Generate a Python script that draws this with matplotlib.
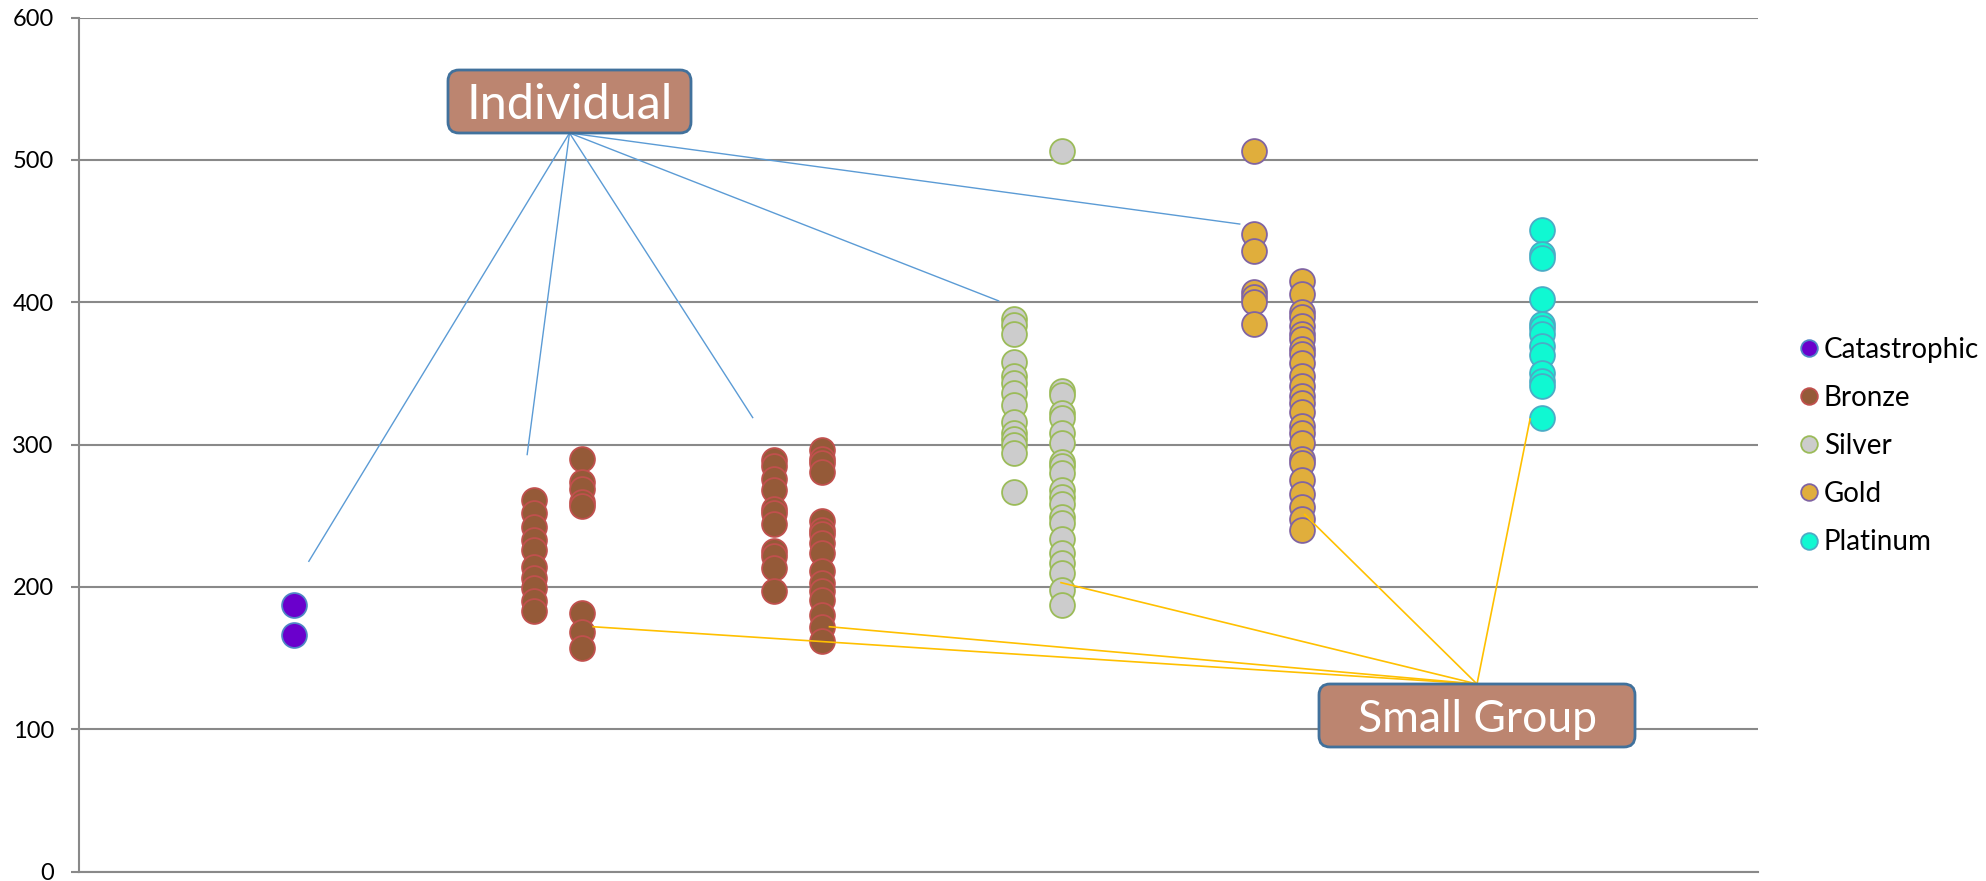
import matplotlib
matplotlib.use("Agg")
import matplotlib.pyplot as plt
from matplotlib.lines import Line2D
from matplotlib.patches import FancyBboxPatch

plt.rcParams['font.family'] = ['Lato', 'DejaVu Sans']

# ---- data -------------------------------------------------------------
series_names = ["Catastrophic", "Bronze", "Silver", "Gold", "Platinum"]

# level positions on the x axis; individual results sit just left of a level,
# small-group results just right of it
catastrophic_level = 1
bronze_levels = [2, 3]
silver_level = 4
gold_level = 5
platinum_level = 6
offset = 0.1

catastrophic_individual = [187, 166]

bronze1_individual = [261, 252, 242, 233, 226, 214, 206, 199, 190, 183]
bronze1_group = [290, 274, 269, 260, 257, 182, 168, 157]

bronze2_individual = [289, 285, 276, 268, 255, 252, 244, 225, 222, 213, 197]
bronze2_group = [296, 290, 287, 281, 246, 240, 237, 231, 224, 211, 203, 197,
                 191, 180, 172, 162]

silver_individual = [388, 384, 378, 358, 348, 343, 336, 328, 316, 308, 304,
                     300, 294, 267]
silver_group = [506, 338, 335, 322, 319, 308, 301, 288, 285, 280, 268, 263,
                258, 249, 245, 234, 224, 217, 210, 198, 187]

gold_individual = [506, 448, 436, 407, 404, 400, 385]
gold_group = [415, 406, 393, 390, 383, 378, 374, 367, 364, 357, 348, 341,
              334, 329, 323, 313, 308, 301, 290, 287, 275, 265, 256, 248, 240]

platinum_group = [451, 434, 431, 402, 385, 382, 378, 369, 363, 350, 345,
                  341, 319]

y_ticks = [0, 100, 200, 300, 400, 500, 600]

# callout leader end points (x, y in data units)
individual_targets = [(0.96, 218), (1.87, 293), (2.81, 319), (3.835, 401),
                      (4.84, 455)]
group_targets = [(2.145, 172), (3.13, 172), (4.095, 203), (5.11, 251),
                 (6.05, 318)]

# ---- styling ----------------------------------------------------------
fills = {"Catastrophic": "#6A00CC", "Bronze": "#955A38", "Silver": "#CCCCCC",
         "Gold": "#E0AE3C", "Platinum": "#10F8D2"}
edges = {"Catastrophic": "#4F86C6", "Bronze": "#C0504D", "Silver": "#9BBB59",
         "Gold": "#8064A2", "Platinum": "#4BACC6"}
grid_color = "#898989"
marker_area = 320

fig = plt.figure(figsize=(19.86, 8.81), dpi=100)
ax = fig.add_axes([78.5 / 1986, 9.5 / 881, (1758 - 78.5) / 1986,
                   (871.5 - 17.7) / 881])

ax.set_xlim(0, 7)
ax.set_ylim(0, 600)
ax.set_yticks(y_ticks)
ax.set_xticks([])
ax.tick_params(axis='y', length=5.8, width=1.5, color=grid_color, pad=12.0,
               labelsize=17, labelcolor="#000000")
ax.yaxis.grid(True, color=grid_color, linewidth=1.5)
ax.set_axisbelow(True)
for side in ("top", "right"):
    ax.spines[side].set_visible(False)
for side in ("left", "bottom"):
    ax.spines[side].set_color(grid_color)
    ax.spines[side].set_linewidth(1.5)


def draw(name, xpos, values):
    ax.scatter([xpos] * len(values), values, s=marker_area, c=fills[name],
               edgecolors=edges[name], linewidths=1.3, zorder=3)


draw("Catastrophic", catastrophic_level - offset, catastrophic_individual)
draw("Bronze", bronze_levels[0] - offset, bronze1_individual)
draw("Bronze", bronze_levels[0] + offset, bronze1_group)
draw("Bronze", bronze_levels[1] - offset, bronze2_individual)
draw("Bronze", bronze_levels[1] + offset, bronze2_group)
draw("Silver", silver_level - offset, silver_individual)
draw("Silver", silver_level + offset, silver_group)
draw("Gold", gold_level - offset, gold_individual)
draw("Gold", gold_level + offset, gold_group)
draw("Platinum", platinum_level + offset, platinum_group)

# ---- legend -----------------------------------------------------------
handles = [Line2D([], [], linestyle="none", marker="o", markersize=12,
                  markerfacecolor=fills[n], markeredgecolor=edges[n],
                  markeredgewidth=1.3, label=n) for n in series_names]
ax.legend(handles=handles, loc="center left",
          bbox_to_anchor=(1796 / 1986, (881 - 446) / 881),
          bbox_transform=fig.transFigure, frameon=False, fontsize=20,
          handlelength=0.9, handletextpad=0.1, labelspacing=0.8,
          borderpad=0, borderaxespad=0)

# ---- callouts ---------------------------------------------------------
box_fill = "#BC8570"
box_edge = "#41719C"


def callout(x0, y0, w, h, text, size):
    # box geometry in inches from the figure's lower-left corner
    box = FancyBboxPatch((x0, y0), w, h,
                         boxstyle="round,pad=0,rounding_size=0.11",
                         transform=fig.dpi_scale_trans, facecolor=box_fill,
                         edgecolor=box_edge, linewidth=2.0, zorder=6)
    fig.add_artist(box)
    fig.text(x0 + w / 2, y0 + h / 2, text, transform=fig.dpi_scale_trans,
             ha="center", va="center_baseline", color="white", fontsize=size,
             zorder=7)
    return box


fig.canvas.draw()
to_data = ax.transData.inverted()


def leaders(anchor_in, targets, color, width):
    ax_pt = to_data.transform(fig.dpi_scale_trans.transform(anchor_in))
    for tx, ty in targets:
        ax.plot([ax_pt[0], tx], [ax_pt[1], ty], color=color, linewidth=width,
                clip_on=False, zorder=5)


leaders((5.695, 7.48), individual_targets, "#5B9BD5", 1.0)
leaders((14.77, 1.97), group_targets, "#FFC000", 1.2)

callout(4.48, 7.48, 2.43, 0.63, "Individual", 35)
callout(13.19, 1.34, 3.16, 0.63, "Small Group", 32)

fig.savefig("out.png", dpi=100)
